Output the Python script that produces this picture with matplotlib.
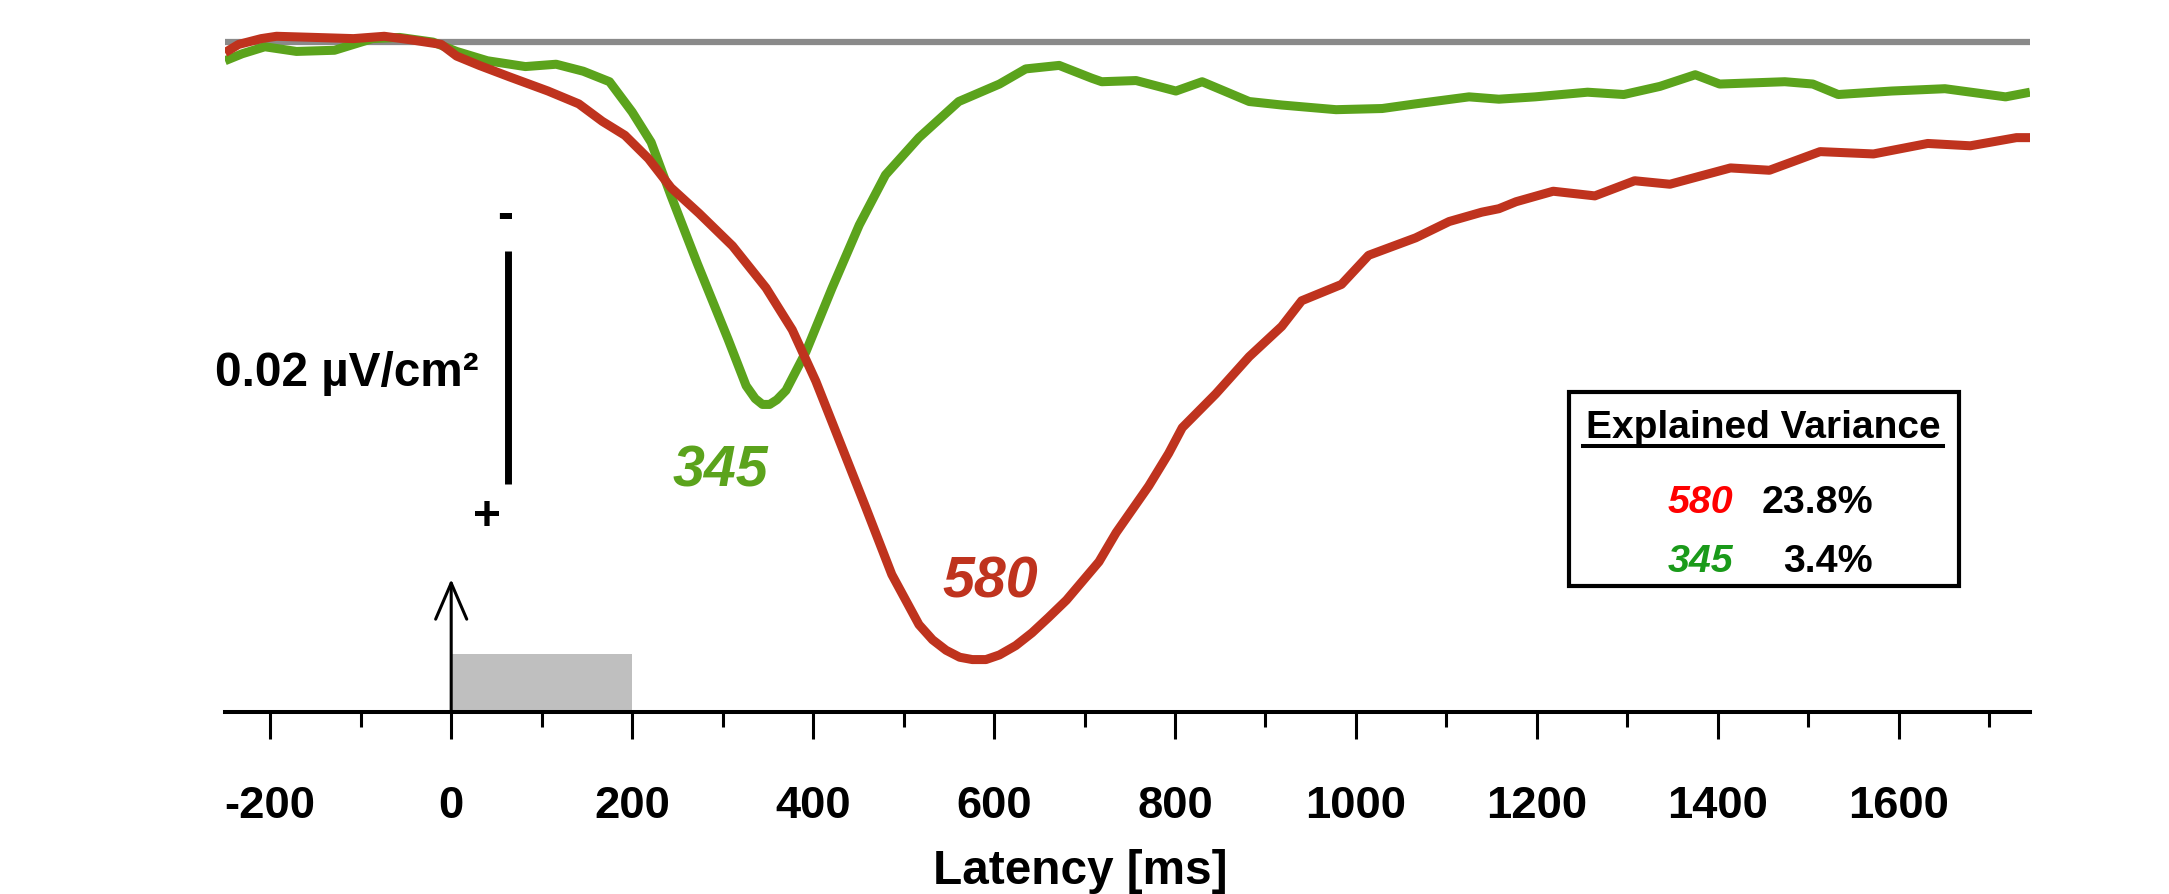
import matplotlib
matplotlib.use('Agg')
import matplotlib.pyplot as plt
from matplotlib import font_manager
from matplotlib.patches import Rectangle, FancyArrowPatch
from matplotlib.lines import Line2D

# pick a narrow bold face if one is installed (the figure text is condensed)
_avail = {f.name for f in font_manager.fontManager.ttflist}
NARROW = next((f for f in ['Liberation Sans Narrow', 'Arial Narrow', 'DejaVu Sans Condensed']
               if f in _avail), 'Liberation Sans')
WIDE = 'Liberation Sans'
plt.rcParams['font.family'] = [NARROW, 'DejaVu Sans']
# narrow faces can take the larger size, a normal face is shrunk to the same width
SZ = 1.0 if NARROW != 'Liberation Sans' else 0.86

# component 580 (red), latency in ms, amplitude in uV/cm^2 (positive = down)
red_ms = [-250, -235, -210, -193, -150, -108, -74, -45, -11, 6, 31, 65, 107, 141, 167,
          192, 218, 243, 274, 311, 348, 377, 403, 429, 458, 487, 517, 532, 547, 562, 576,
          591, 606, 624, 642, 660, 680, 716, 735, 771, 793, 808, 845, 882, 918, 940, 984,
          1014, 1066, 1103, 1139, 1158, 1177, 1218, 1264, 1308, 1347, 1414, 1457, 1513,
          1572, 1632, 1679, 1730, 1745]
red_amp = [0.0009, 0.0002, -0.0003, -0.0005, -0.0004, -0.0003, -0.0005, -0.0002, 0.0002,
           0.0012, 0.0020, 0.0030, 0.0042, 0.0053, 0.0068, 0.0080, 0.0100, 0.0125, 0.0147,
           0.0175, 0.0211, 0.0247, 0.0291, 0.0342, 0.0399, 0.0457, 0.0500, 0.0513, 0.0522,
           0.0528, 0.0530, 0.0530, 0.0526, 0.0518, 0.0507, 0.0494, 0.0479, 0.0446, 0.0421,
           0.0381, 0.0353, 0.0331, 0.0302, 0.0270, 0.0244, 0.0222, 0.0208, 0.0183, 0.0168,
           0.0154, 0.0146, 0.0143, 0.0137, 0.0128, 0.0132, 0.0119, 0.0122, 0.0108, 0.0110,
           0.0094, 0.0096, 0.0087, 0.0089, 0.0082, 0.0082]

# component 345 (green)
green_ms = [-250, -231, -206, -171, -129, -87, -57, -20, 6, 40, 82, 116, 146, 175, 200,
            221, 243, 272, 306, 326, 336, 344, 352, 360, 370, 392, 421, 451, 480, 517, 561,
            606, 635, 672, 708, 719, 757, 801, 830, 882, 918, 978, 1029, 1066, 1125, 1158,
            1198, 1256, 1296, 1336, 1375, 1402, 1474, 1505, 1533, 1592, 1651, 1718, 1745]
green_amp = [0.0016, 0.0010, 0.0004, 0.0008, 0.0007, -0.0003, -0.0004, 0.0000, 0.0008,
             0.0016, 0.0021, 0.0019, 0.0025, 0.0034, 0.0060, 0.0086, 0.0132, 0.0190,
             0.0255, 0.0295, 0.0306, 0.0311, 0.0311, 0.0307, 0.0299, 0.0266, 0.0211,
             0.0157, 0.0114, 0.0082, 0.0051, 0.0036, 0.0023, 0.0020, 0.0031, 0.0034,
             0.0033, 0.0042, 0.0034, 0.0051, 0.0054, 0.0058, 0.0057, 0.0053, 0.0047,
             0.0049, 0.0047, 0.0043, 0.0045, 0.0038, 0.0028, 0.0036, 0.0034, 0.0036,
             0.0045, 0.0042, 0.0040, 0.0047, 0.0043]

major_ticks = [-200, 0, 200, 400, 600, 800, 1000, 1200, 1400, 1600]
minor_ticks = [-100, 100, 300, 500, 700, 900, 1100, 1300, 1500, 1700]

components = ['580', '345']
variance = ['23.8%', '3.4%']

RED = '#bf331e'
GREEN = '#5ba31c'
LEG_COLORS = ['#ff0000', '#1a9a1a']

W, H = 2169, 895
XMIN, XMAX = -250, 1745
YTOP, YBOT = -0.0037, 0.0575


def fx(px):
    return px / W


def fy(py):
    return 1 - py / H


fig = plt.figure(figsize=(W / 100, H / 100), dpi=100)
ax = fig.add_axes([fx(225), fy(713), (2030 - 225) / W, 713 / H])
ax.set_xlim(XMIN, XMAX)
ax.set_ylim(YBOT, YTOP)

ax.axhline(0, color='#8a8a8a', lw=4.5, zorder=1)
ax.plot(green_ms, green_amp, color=GREEN, lw=6.5, zorder=3,
        solid_capstyle='butt', solid_joinstyle='round')
ax.plot(red_ms, red_amp, color=RED, lw=6.5, zorder=4,
        solid_capstyle='butt', solid_joinstyle='round')

# stimulus duration and onset arrow
ax.add_patch(Rectangle((0, 0.0525), 200, YBOT - 0.0525, fc='#bfbfbf', ec='none', zorder=2))
ax.add_patch(FancyArrowPatch((0, YBOT), (0, 0.0461),
                             arrowstyle='->,head_length=0.65,head_width=0.28',
                             mutation_scale=40, lw=2.2, color='black', zorder=5,
                             clip_on=False, shrinkA=0, shrinkB=0))

# amplitude scale bar
ax.plot([63, 63], [0.0179, 0.0379], color='black', lw=5, solid_capstyle='butt')
ax.text(60, 0.0149, '-', fontsize=40 * SZ, fontweight='bold', ha='center', va='center')
ax.text(39, 0.0407, '+', fontsize=40 * SZ, fontweight='bold', ha='center', va='center')
ax.text(30, 0.0284, '0.02 \u00b5V/cm\u00b2', fontsize=40 * SZ, fontweight='bold',
        ha='right', va='center')

ax.text(298, 0.0368, '345', color=GREEN, fontsize=48 * SZ, fontweight='bold',
        fontstyle='italic', ha='center', va='center')
ax.text(596, 0.0463, '580', color=RED, fontsize=48 * SZ, fontweight='bold',
        fontstyle='italic', ha='center', va='center')

# axis styling
for side in ['left', 'right', 'top']:
    ax.spines[side].set_visible(False)
ax.spines['bottom'].set_linewidth(2.9)
ax.set_yticks([])
ax.set_xticks(major_ticks)
ax.set_xticks(minor_ticks, minor=True)
ax.set_xticklabels([str(t) for t in major_ticks], fontsize=38 * SZ, fontweight='bold')
ax.tick_params(axis='x', which='major', direction='out', length=19.5, width=2.2, pad=33)
ax.tick_params(axis='x', which='minor', direction='out', length=11, width=2.2)

fig.text(fx(1080), fy(884), 'Latency [ms]', fontsize=40 * SZ, fontweight='bold',
         ha='center', va='baseline')

# explained variance box
fig.add_artist(Rectangle((fx(1569), fy(587)), (1959 - 1569) / W, (587 - 393) / H,
                         transform=fig.transFigure, fill=False, ec='black', lw=3))
fig.text(fx(1763), fy(438), 'Explained Variance', family=WIDE, fontsize=28,
         fontweight='bold', ha='center', va='baseline')
fig.add_artist(Line2D([fx(1583), fx(1943)], [fy(447), fy(447)],
                      transform=fig.transFigure, color='black', lw=2.9))
for i, (comp, var) in enumerate(zip(components, variance)):
    base = 513 + i * 59
    fig.text(fx(1733), fy(base), comp, color=LEG_COLORS[i], fontsize=33 * SZ,
             fontweight='bold', fontstyle='italic', ha='right', va='baseline')
    fig.text(fx(1873), fy(base), var, fontsize=33 * SZ, fontweight='bold',
             ha='right', va='baseline')

fig.savefig('out.png', dpi=100)
